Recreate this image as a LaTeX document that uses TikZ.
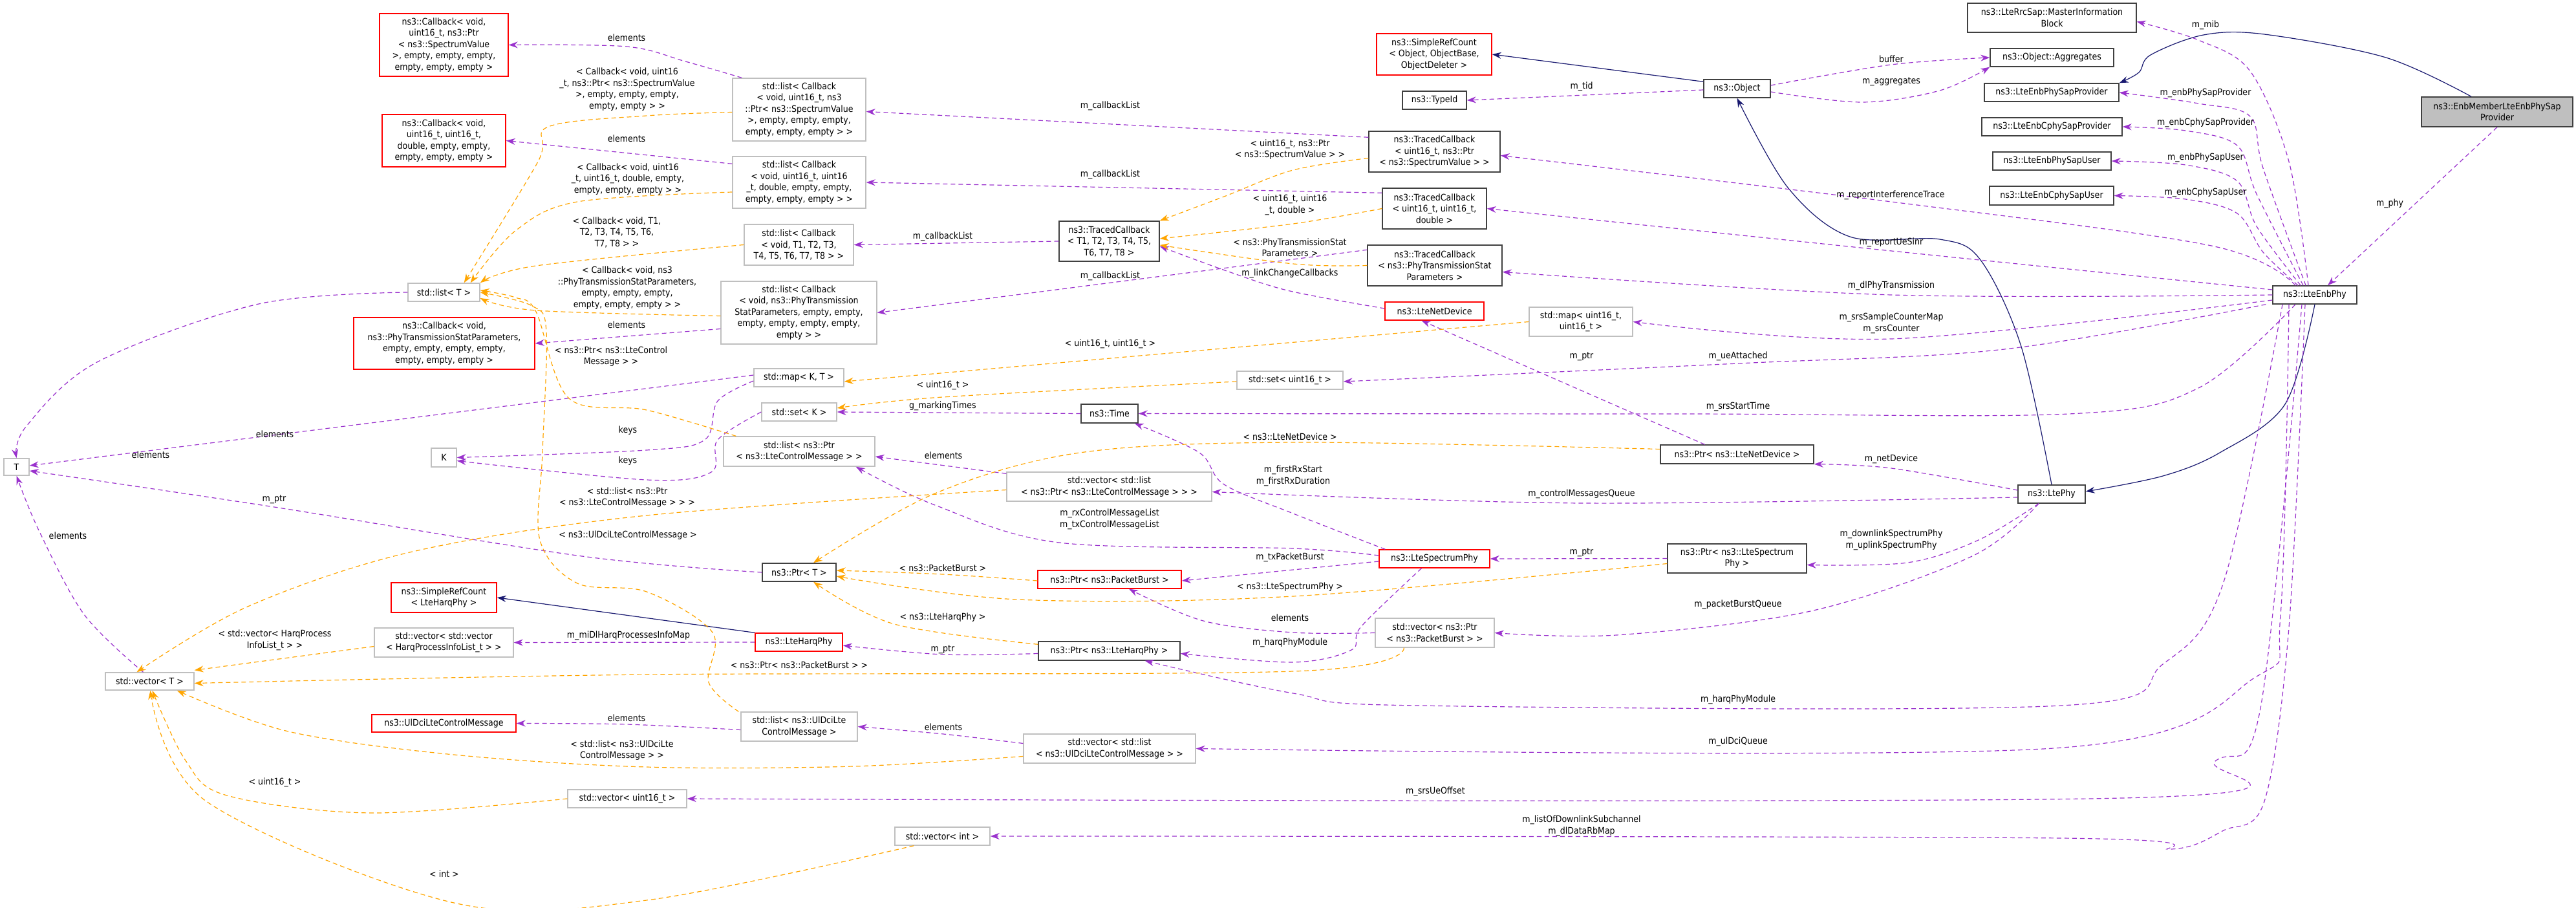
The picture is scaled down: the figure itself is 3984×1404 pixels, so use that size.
\documentclass[tikz,border=0pt]{standalone}
\usepackage{fontspec}
\setmainfont{DejaVu Sans Condensed}
\usetikzlibrary{arrows.meta}
\definecolor{pu}{HTML}{9A32CD}
\definecolor{orn}{HTML}{FFA500}
\definecolor{nav}{HTML}{191970}
\definecolor{gbd}{HTML}{BFBFBF}
\definecolor{rbd}{HTML}{FF0000}
\tikzset{
  nb/.style={inner sep=0pt, align=center, font=\fontsize{14}{17.5}\selectfont, line width=1.4pt},
  gb/.style={nb, draw=gbd},
  bb/.style={nb, draw=black!75},
  rb/.style={nb, draw=rbd},
  grb/.style={nb, draw=black!75, fill=gbd},
  lab/.style={inner sep=0pt, align=center, font=\fontsize{14}{17.5}\selectfont},
  tip/.style={-{Stealth[length=14pt,width=10pt]}},
  pe/.style={tip, draw=pu, line width=1.2pt, dash pattern=on 7pt off 5pt},
  oe/.style={tip, draw=orn, line width=1.2pt, dash pattern=on 7pt off 5pt},
  ne/.style={tip, draw=nav, line width=1.2pt},
  sm/.style={smooth, tension=0.55}
}
\newcommand\bx[7]{\node[#6, minimum width={#4-#2}, minimum height={#5-#3}] (#1) at ({(#2+#4)/2},{-(#3+#5)/2}) {#7};}
\begin{document}
\begin{tikzpicture}[x=1pt,y=1pt]
\useasboundingbox (0,0) rectangle (3984,-1404);
% ---------- nodes
\bx{cb1}{587}{21}{786}{118}{rb}{ns3::Callback< void,\\ uint16\_t, ns3::Ptr\\< ns3::SpectrumValue\\ >, empty, empty, empty,\\ empty, empty, empty >}
\bx{cb2}{591}{177}{782}{258}{rb}{ns3::Callback< void,\\uint16\_t, uint16\_t,\\double, empty, empty,\\empty, empty, empty >}
\bx{lT}{631}{438}{742}{466}{gb}{std::list< T >}
\bx{cb3}{547}{491}{827}{571}{rb}{ns3::Callback< void,\\ns3::PhyTransmissionStatParameters,\\empty, empty, empty, empty,\\empty, empty, empty >}
\bx{K}{667}{693}{706}{722}{gb}{K}
\bx{T}{6}{709}{45}{735}{gb}{T}
\bx{srH}{605}{901}{768}{947}{rb}{ns3::SimpleRefCount\\< LteHarqPhy >}
\bx{vvH}{579}{971}{794}{1016}{gb}{std::vector< std::vector\\< HarqProcessInfoList\_t > >}
\bx{vT}{163}{1040}{300}{1067}{gb}{std::vector< T >}
\bx{udci}{575}{1105}{798}{1132}{rb}{ns3::UlDciLteControlMessage}
\bx{vU16}{878}{1221}{1062}{1249}{gb}{std::vector< uint16\_t >}
\bx{l1}{1133}{121}{1339}{218}{gb}{std::list< Callback\\< void, uint16\_t, ns3\\::Ptr< ns3::SpectrumValue\\>, empty, empty, empty,\\empty, empty, empty > >}
\bx{l2}{1133}{242}{1339}{322}{gb}{std::list< Callback\\< void, uint16\_t, uint16\\\_t, double, empty, empty,\\empty, empty, empty > >}
\bx{l3}{1151}{347}{1320}{410}{gb}{std::list< Callback\\< void, T1, T2, T3,\\T4, T5, T6, T7, T8 > >}
\bx{l4}{1115}{435}{1356}{532}{gb}{std::list< Callback\\< void, ns3::PhyTransmission\\StatParameters, empty, empty,\\empty, empty, empty, empty,\\empty > >}
\bx{tcT}{1638}{342}{1793}{404}{bb}{ns3::TracedCallback\\< T1, T2, T3, T4, T5,\\T6, T7, T8 >}
\bx{map}{1166}{570}{1305}{598}{gb}{std::map< K, T >}
\bx{setK}{1178}{623}{1294}{651}{gb}{std::set< K >}
\bx{time}{1672}{625}{1760}{654}{bb}{ns3::Time}
\bx{setU}{1913}{574}{2077}{602}{gb}{std::set< uint16\_t >}
\bx{lLCM}{1119}{675}{1353}{721}{gb}{std::list< ns3::Ptr\\< ns3::LteControlMessage > >}
\bx{vlLCM}{1557}{730}{1874}{775}{gb}{std::vector< std::list\\< ns3::Ptr< ns3::LteControlMessage > > >}
\bx{ptrT}{1179}{871}{1293}{899}{bb}{ns3::Ptr< T >}
\bx{ptrPB}{1605}{882}{1827}{910}{rb}{ns3::Ptr< ns3::PacketBurst >}
\bx{harq}{1168}{979}{1303}{1007}{rb}{ns3::LteHarqPhy}
\bx{ptrH}{1606}{992}{1825}{1021}{bb}{ns3::Ptr< ns3::LteHarqPhy >}
\bx{lUD}{1146}{1101}{1326}{1146}{gb}{std::list< ns3::UlDciLte\\ControlMessage >}
\bx{vlUD}{1583}{1135}{1849}{1180}{gb}{std::vector< std::list\\< ns3::UlDciLteControlMessage > >}
\bx{vInt}{1384}{1279}{1531}{1307}{gb}{std::vector< int >}
\bx{src}{2129}{52}{2307}{116}{rb}{ns3::SimpleRefCount\\< Object, ObjectBase,\\ObjectDeleter >}
\bx{tid}{2169}{141}{2268}{169}{bb}{ns3::TypeId}
\bx{obj}{2635}{123}{2738}{151}{bb}{ns3::Object}
\bx{tc1}{2117}{203}{2320}{266}{bb}{ns3::TracedCallback\\< uint16\_t, ns3::Ptr\\< ns3::SpectrumValue > >}
\bx{tc2}{2138}{291}{2299}{354}{bb}{ns3::TracedCallback\\< uint16\_t, uint16\_t,\\double >}
\bx{tc3}{2115}{379}{2323}{442}{bb}{ns3::TracedCallback\\< ns3::PhyTransmissionStat\\Parameters >}
\bx{nd}{2142}{467}{2295}{495}{rb}{ns3::LteNetDevice}
\bx{mapU}{2365}{475}{2525}{520}{gb}{std::map< uint16\_t,\\uint16\_t >}
\bx{ptrND}{2568}{688}{2805}{717}{bb}{ns3::Ptr< ns3::LteNetDevice >}
\bx{sp}{2133}{850}{2304}{878}{rb}{ns3::LteSpectrumPhy}
\bx{ptrSP}{2579}{841}{2794}{886}{bb}{ns3::Ptr< ns3::LteSpectrum\\Phy >}
\bx{vPB}{2127}{956}{2311}{1001}{gb}{std::vector< ns3::Ptr\\< ns3::PacketBurst > >}
\bx{mib}{3043}{5}{3304}{50}{bb}{ns3::LteRrcSap::MasterInformation\\Block}
\bx{agg}{3078}{75}{3269}{103}{bb}{ns3::Object::Aggregates}
\bx{psp}{3069}{129}{3277}{157}{bb}{ns3::LteEnbPhySapProvider}
\bx{cpsp}{3065}{182}{3282}{210}{bb}{ns3::LteEnbCphySapProvider}
\bx{psu}{3082}{235}{3265}{263}{bb}{ns3::LteEnbPhySapUser}
\bx{cpsu}{3077}{288}{3269}{317}{bb}{ns3::LteEnbCphySapUser}
\bx{mem}{3745}{150}{3979}{196}{grb}{ns3::EnbMemberLteEnbPhySap\\Provider}
\bx{enb}{3515}{442}{3645}{470}{bb}{ns3::LteEnbPhy}
\bx{phy}{3121}{750}{3225}{778}{bb}{ns3::LtePhy}
% ---------- navy (inheritance)
\draw[ne] ([yshift=-4pt]obj.north west) -- (src.east);
\draw[ne] plot[sm] coordinates {(phy.north) (3126,-536) (3063,-402) (3000,-370) (2861,-366) (2765,-290) (obj.south)};
\draw[ne] plot[sm] coordinates {(enb.south) (3534,-625) (3433,-700) (3345,-736) ([yshift=4pt]phy.east)};
\draw[ne] (harq.north west) -- (srH.east);
\draw[ne] plot[sm] coordinates {([xshift=-40pt]mem.north) (3690,-89) (3502,-53) (3408,-54) (3326,-85) (3308,-112) (psp.north east)};
% ---------- purple (usage)
\draw[pe] plot[sm] coordinates {([xshift=15pt]l1.north west) (1060,-95) (969,-72) (cb1.east)};
\draw[pe] ([yshift=-12pt]l2.north west) -- (cb2.east);
\draw[pe] ([yshift=-25pt]l4.west) -- (cb3.east);
\draw[pe] plot[sm] coordinates {(lT.west) (400,-470) (150,-560) (40,-660) (T.north)};
\draw[pe] ([yshift=4pt]map.west) -- ([yshift=2pt]T.east);
\draw[pe] plot[sm] coordinates {([yshift=-5pt]map.west) (1110,-620) (1090,-680) (1000,-696) (K.east)};
\draw[pe] plot[sm] coordinates {(setK.west) (1110,-680) (1100,-730) (1000,-742) ([yshift=-5pt]K.east)};
\draw[pe] plot[sm] coordinates {([xshift=-10pt]vT.north) (130,-950) (60,-820) (T.south)};
\draw[pe] plot[sm] coordinates {(ptrT.west) (900,-860) (424,-784) ([yshift=-6pt]T.east)};
\draw[pe] ([yshift=-10pt]tc1.north west) -- ([yshift=-3pt]l1.east);
\draw[pe] ([yshift=-8pt]tc2.north west) -- (l2.east);
\draw[pe] (tcT.west) -- (l3.east);
\draw[pe] ([yshift=-8pt]tc3.north west) -- (l4.east);
\draw[pe] plot[sm] coordinates {([yshift=4pt]nd.west) (1995,-450) (1900,-420) ([yshift=-8pt]tcT.east)};
\draw[pe] (time.west) -- (setK.east);
\draw[pe] plot[sm] coordinates {([xshift=10pt]sp.north west) (2000,-794) (1893,-749) (1855,-700) ([xshift=-6pt]time.south east)};
\draw[pe] ([yshift=-3pt]vlLCM.north west) -- ([yshift=-8pt]lLCM.east);
\draw[pe] plot[sm] coordinates {([yshift=5pt]sp.west) (2000,-848) (1638,-839) (1446,-781) ([xshift=-30pt]lLCM.south east)};
\draw[pe] ([yshift=-4pt]sp.west) -- ([yshift=-2pt]ptrPB.east);
\draw[pe] plot[sm] coordinates {(vPB.west) (2000,-978) (1861,-960) ([xshift=30pt]ptrPB.south)};
\draw[pe] plot[sm] coordinates {([yshift=-4pt]ptrH.west) (1458,-1012) ([yshift=-5pt]harq.east)};
\draw[pe] plot[sm] coordinates {([xshift=-20pt]sp.south) (2105,-969) (2090,-1005) (2000,-1024) ([yshift=-4pt]ptrH.east)};
\draw[pe] (harq.west) -- (vvH.east);
\draw[pe] plot[sm] coordinates {([yshift=-5pt]lUD.west) (969,-1120) (udci.east)};
\draw[pe] plot[sm] coordinates {([yshift=8pt]vlUD.west) (1459,-1135) (lUD.east)};
\draw[pe] ([yshift=-2pt]obj.west) -- (tid.east);
\draw[pe] plot[sm] coordinates {([yshift=5pt]obj.east) (2925,-100) (agg.west)};
\draw[pe] plot[sm] coordinates {([yshift=-5pt]obj.east) (2880,-158) (3000,-140) (agg.south west)};
\draw[pe] ([xshift=-50pt]ptrND.north) -- ([xshift=-20pt]nd.south);
\draw[pe] (ptrSP.west) -- (sp.east);
\draw[pe] plot[sm] coordinates {([xshift=-10pt]enb.north) (3540,-250) (3480,-110) (3400,-62) ([yshift=-6pt]mib.east)};
\draw[pe] plot[sm] coordinates {([xshift=-14pt]enb.north) (3500,-260) (3480,-180) (3400,-160) (psp.east)};
\draw[pe] plot[sm] coordinates {([xshift=-18pt]enb.north) (3490,-300) (3460,-225) (3380,-202) (cpsp.east)};
\draw[pe] plot[sm] coordinates {([xshift=-22pt]enb.north) (3490,-350) (3460,-280) (3380,-255) (psu.east)};
\draw[pe] plot[sm] coordinates {([xshift=-26pt]enb.north) (3500,-390) (3460,-330) (3380,-308) (cpsu.east)};
\draw[pe] (mem.south) -- ([xshift=20pt]enb.north);
\draw[pe] plot[sm] coordinates {([xshift=-30pt]enb.north) (3420,-380) (2925,-312) ([yshift=-6pt]tc1.east)};
\draw[pe] plot[sm] coordinates {([yshift=8pt]enb.west) (2925,-388) (tc2.east)};
\draw[pe] plot[sm] coordinates {(enb.west) (2925,-456) ([yshift=-10pt]tc3.east)};
\draw[pe] plot[sm] coordinates {([yshift=-8pt]enb.west) (2925,-524) (mapU.east)};
\draw[pe] plot[sm] coordinates {([xshift=-10pt]enb.south west) (3100,-540) (2688,-562) ([yshift=-2pt]setU.east)};
\draw[pe] plot[sm] coordinates {([xshift=-30pt]enb.south) (3400,-600) (3200,-640) (2600,-640) (time.east)};
\draw[pe] plot[sm] coordinates {([yshift=6pt]phy.west) (2925,-724) (ptrND.south east)};
\draw[pe] plot[sm] coordinates {([yshift=-5pt]phy.west) (2446,-778) ([yshift=-8pt]vlLCM.east)};
\draw[pe] plot[sm] coordinates {([xshift=-20pt]phy.south) (3060,-835) (2950,-870) ([yshift=-10pt]ptrSP.east)};
\draw[pe] plot[sm] coordinates {([xshift=-20pt]phy.south) (3050,-860) (2800,-945) (2500,-982) (vPB.east)};
\draw[pe] plot[sm] coordinates {([xshift=-50pt]enb.south) (3439,-900) (3345,-1027) (3188,-1091) (2191,-1091) (2000,-1072) ([xshift=-55pt]ptrH.south east)};
\draw[pe] plot[sm] coordinates {([xshift=-40pt]enb.south) (3527,-951) (3490,-1046) (3176,-1157) (vlUD.east)};
\draw[pe] plot[sm] coordinates {([xshift=-20pt]enb.south) (3496,-1095) (3427,-1176) (3282,-1234) (vU16.east)};
\draw[pe] plot[sm] coordinates {([xshift=-15pt]enb.south) (3540,-970) (3502,-1239) (3439,-1284) (3358,-1313) (3188,-1296) (vInt.east)};
% ---------- orange (template instances)
\draw[oe] plot[sm] coordinates {([yshift=-4pt]l1.west) (1000,-179) (848,-196) (832,-250) ([xshift=-25pt]lT.north east)};
\draw[oe] plot[sm] coordinates {([yshift=-15pt]l2.west) (893,-312) (797,-357) ([xshift=-15pt]lT.north east)};
\draw[oe] plot[sm] coordinates {(l3.west) (829,-411) (lT.north east)};
\draw[oe] plot[sm] coordinates {([yshift=-5pt]l4.west) (829,-480) ([yshift=-9pt]lT.east)};
\draw[oe] plot[sm] coordinates {([xshift=20pt]lLCM.north west) (1000,-634) (880,-616) (829,-482) (797,-460) ([yshift=3pt]lT.east)};
\draw[oe] plot[sm] coordinates {([xshift=-3pt]lUD.north west) (1096,-1055) (1102,-978) (1000,-915) (893,-902) (835,-835) (839,-700) (845,-513) (823,-473) (lT.east)};
\draw[oe] plot[sm] coordinates {([yshift=-10pt]tc1.west) (2000,-263) (1893,-304) (tcT.north east)};
\draw[oe] plot[sm] coordinates {(tc2.west) (2000,-346) ([yshift=4pt]tcT.east)};
\draw[oe] plot[sm] coordinates {(tc3.west) (2000,-408) ([yshift=-6pt]tcT.east)};
\draw[oe] (mapU.west) -- ([yshift=-6pt]map.east);
\draw[oe] plot[sm] coordinates {([yshift=-2pt]setU.west) (1458,-614) ([yshift=6pt]setK.east)};
\draw[oe] plot[sm] coordinates {([yshift=-5pt]vlLCM.west) (1000,-797) (638,-853) (383,-938) ([xshift=-20pt]vT.north)};
\draw[oe] plot[sm] coordinates {([yshift=-2pt]ptrPB.west) (1458,-888) ([yshift=3pt]ptrT.east)};
\draw[oe] plot[sm] coordinates {([yshift=-8pt]ptrSP.west) (2000,-922) (1574,-927) ([yshift=-6pt]ptrT.east)};
\draw[oe] plot[sm] coordinates {([yshift=-5pt]ptrH.north west) (1383,-965) ([xshift=22pt]ptrT.south)};
\draw[oe] plot[sm] coordinates {([yshift=8pt]ptrND.west) (2000,-684) (1670,-700) (1446,-763) ([xshift=22pt]ptrT.north)};
\draw[oe] ([yshift=-6pt]vvH.west) -- ([yshift=3pt]vT.north east);
\draw[oe] plot[sm] coordinates {([xshift=45pt]vPB.south west) (2000,-1038) (1000,-1043) ([yshift=-3pt]vT.east)};
\draw[oe] plot[sm] coordinates {([yshift=-12pt]vlUD.west) (1319,-1185) (1000,-1186) (702,-1167) (446,-1131) ([xshift=-27pt]vT.south east)};
\draw[oe] plot[sm] coordinates {(vU16.west) (574,-1257) (351,-1230) (287,-1176) ([xshift=4pt]vT.south)};
\draw[oe] plot[sm] coordinates {([xshift=30pt]vInt.south west) (1000,-1392) (702,-1396) (319,-1239) ([xshift=1pt]vT.south)};
% ---------- labels
\node[lab] (a1) at (969,-58) {elements};
\node[lab] (a2) at (969,-214) {elements};
\node[lab] (a3) at (969,-502) {elements};
\node[lab] (a4) at (233,-703) {elements};
\node[lab] (a5) at (425,-671) {elements};
\node[lab] (a6) at (971,-666) {keys};
\node[lab] (a7) at (971,-713) {keys};
\node[lab] (a8) at (105,-828) {elements};
\node[lab] (a9) at (424,-772) {m\_ptr};
\node[lab] (a10) at (970,-138) {< Callback< void, uint16\\\_t, ns3::Ptr< ns3::SpectrumValue\\>, empty, empty, empty,\\empty, empty > >};
\node[lab] (a11) at (971,-277) {< Callback< void, uint16\\\_t, uint16\_t, double, empty,\\empty, empty, empty > >};
\node[lab] (a12) at (954,-359) {< Callback< void, T1,\\T2, T3, T4, T5, T6,\\T7, T8 > >};
\node[lab] (a13) at (970,-445) {< Callback< void, ns3\\::PhyTransmissionStatParameters,\\empty, empty, empty,\\empty, empty, empty > >};
\node[lab] (a14) at (945,-551) {< ns3::Ptr< ns3::LteControl\\Message > >};
\node[lab] (a15) at (970,-769) {< std::list< ns3::Ptr\\< ns3::LteControlMessage > > >};
\node[lab] (a16) at (971,-828) {< ns3::UlDciLteControlMessage >};
\node[lab] (a17) at (425,-990) {< std::vector< HarqProcess\\InfoList\_t > >};
\node[lab] (a18) at (969,-1110) {elements};
\node[lab] (a19) at (962,-1160) {< std::list< ns3::UlDciLte\\ControlMessage > >};
\node[lab] (a20) at (425,-1210) {< uint16\_t >};
\node[lab] (a21) at (687,-1351) {< int >};
\node[lab] (a22) at (1717,-164) {m\_callbackList};
\node[lab] (a23) at (1717,-270) {m\_callbackList};
\node[lab] (a24) at (1458,-366) {m\_callbackList};
\node[lab] (a25) at (1717,-427) {m\_callbackList};
\node[lab] (a26) at (1995,-231) {< uint16\_t, ns3::Ptr\\< ns3::SpectrumValue > >};
\node[lab] (a27) at (1995,-317) {< uint16\_t, uint16\\\_t, double >};
\node[lab] (a28) at (1995,-383) {< ns3::PhyTransmissionStat\\Parameters >};
\node[lab] (a29) at (1995,-423) {m\_linkChangeCallbacks};
\node[lab] (a30) at (1717,-532) {< uint16\_t, uint16\_t >};
\node[lab] (a31) at (1458,-596) {< uint16\_t >};
\node[lab] (a32) at (1458,-628) {g\_markingTimes};
\node[lab] (a33) at (1995,-675) {< ns3::LteNetDevice >};
\node[lab] (a34) at (1459,-704) {elements};
\node[lab] (a35) at (2000,-736) {m\_firstRxStart\\m\_firstRxDuration};
\node[lab] (a36) at (1716,-803) {m\_rxControlMessageList\\m\_txControlMessageList};
\node[lab] (a37) at (1458,-878) {< ns3::PacketBurst >};
\node[lab] (a38) at (1995,-862) {m\_txPacketBurst};
\node[lab] (a39) at (1995,-908) {< ns3::LteSpectrumPhy >};
\node[lab] (a40) at (1458,-955) {< ns3::LteHarqPhy >};
\node[lab] (a41) at (972,-983) {m\_miDlHarqProcessesInfoMap};
\node[lab] (a42) at (1995,-955) {elements};
\node[lab] (a43) at (1458,-1004) {m\_ptr};
\node[lab] (a44) at (1995,-994) {m\_harqPhyModule};
\node[lab] (a45) at (1236,-1028) {< ns3::Ptr< ns3::PacketBurst > >};
\node[lab] (a46) at (1459,-1124) {elements};
\node[lab] (a47) at (2446,-134) {m\_tid};
\node[lab] (a48) at (2925,-91) {buffer};
\node[lab] (a49) at (2925,-126) {m\_aggregates};
\node[lab] (a50) at (2924,-302) {m\_reportInterferenceTrace};
\node[lab] (a51) at (2925,-375) {m\_reportUeSinr};
\node[lab] (a52) at (2925,-442) {m\_dlPhyTransmission};
\node[lab] (a53) at (2925,-500) {m\_srsSampleCounterMap\\m\_srsCounter};
\node[lab] (a54) at (2446,-551) {m\_ptr};
\node[lab] (a55) at (2688,-551) {m\_ueAttached};
\node[lab] (a56) at (2688,-629) {m\_srsStartTime};
\node[lab] (a57) at (2925,-710) {m\_netDevice};
\node[lab] (a58) at (2446,-764) {m\_controlMessagesQueue};
\node[lab] (a59) at (2446,-854) {m\_ptr};
\node[lab] (a60) at (2925,-835) {m\_downlinkSpectrumPhy\\m\_uplinkSpectrumPhy};
\node[lab] (a61) at (2688,-935) {m\_packetBurstQueue};
\node[lab] (a62) at (2688,-1082) {m\_harqPhyModule};
\node[lab] (a63) at (2688,-1147) {m\_ulDciQueue};
\node[lab] (a64) at (2220,-1224) {m\_srsUeOffset};
\node[lab] (a65) at (2446,-1277) {m\_listOfDownlinkSubchannel\\m\_dlDataRbMap};
\node[lab] (a66) at (3411,-39) {m\_mib};
\node[lab] (a67) at (3411,-144) {m\_enbPhySapProvider};
\node[lab] (a68) at (3411,-190) {m\_enbCphySapProvider};
\node[lab] (a69) at (3411,-244) {m\_enbPhySapUser};
\node[lab] (a70) at (3411,-298) {m\_enbCphySapUser};
\node[lab] (a71) at (3696,-315) {m\_phy};
\end{tikzpicture}
\end{document}
